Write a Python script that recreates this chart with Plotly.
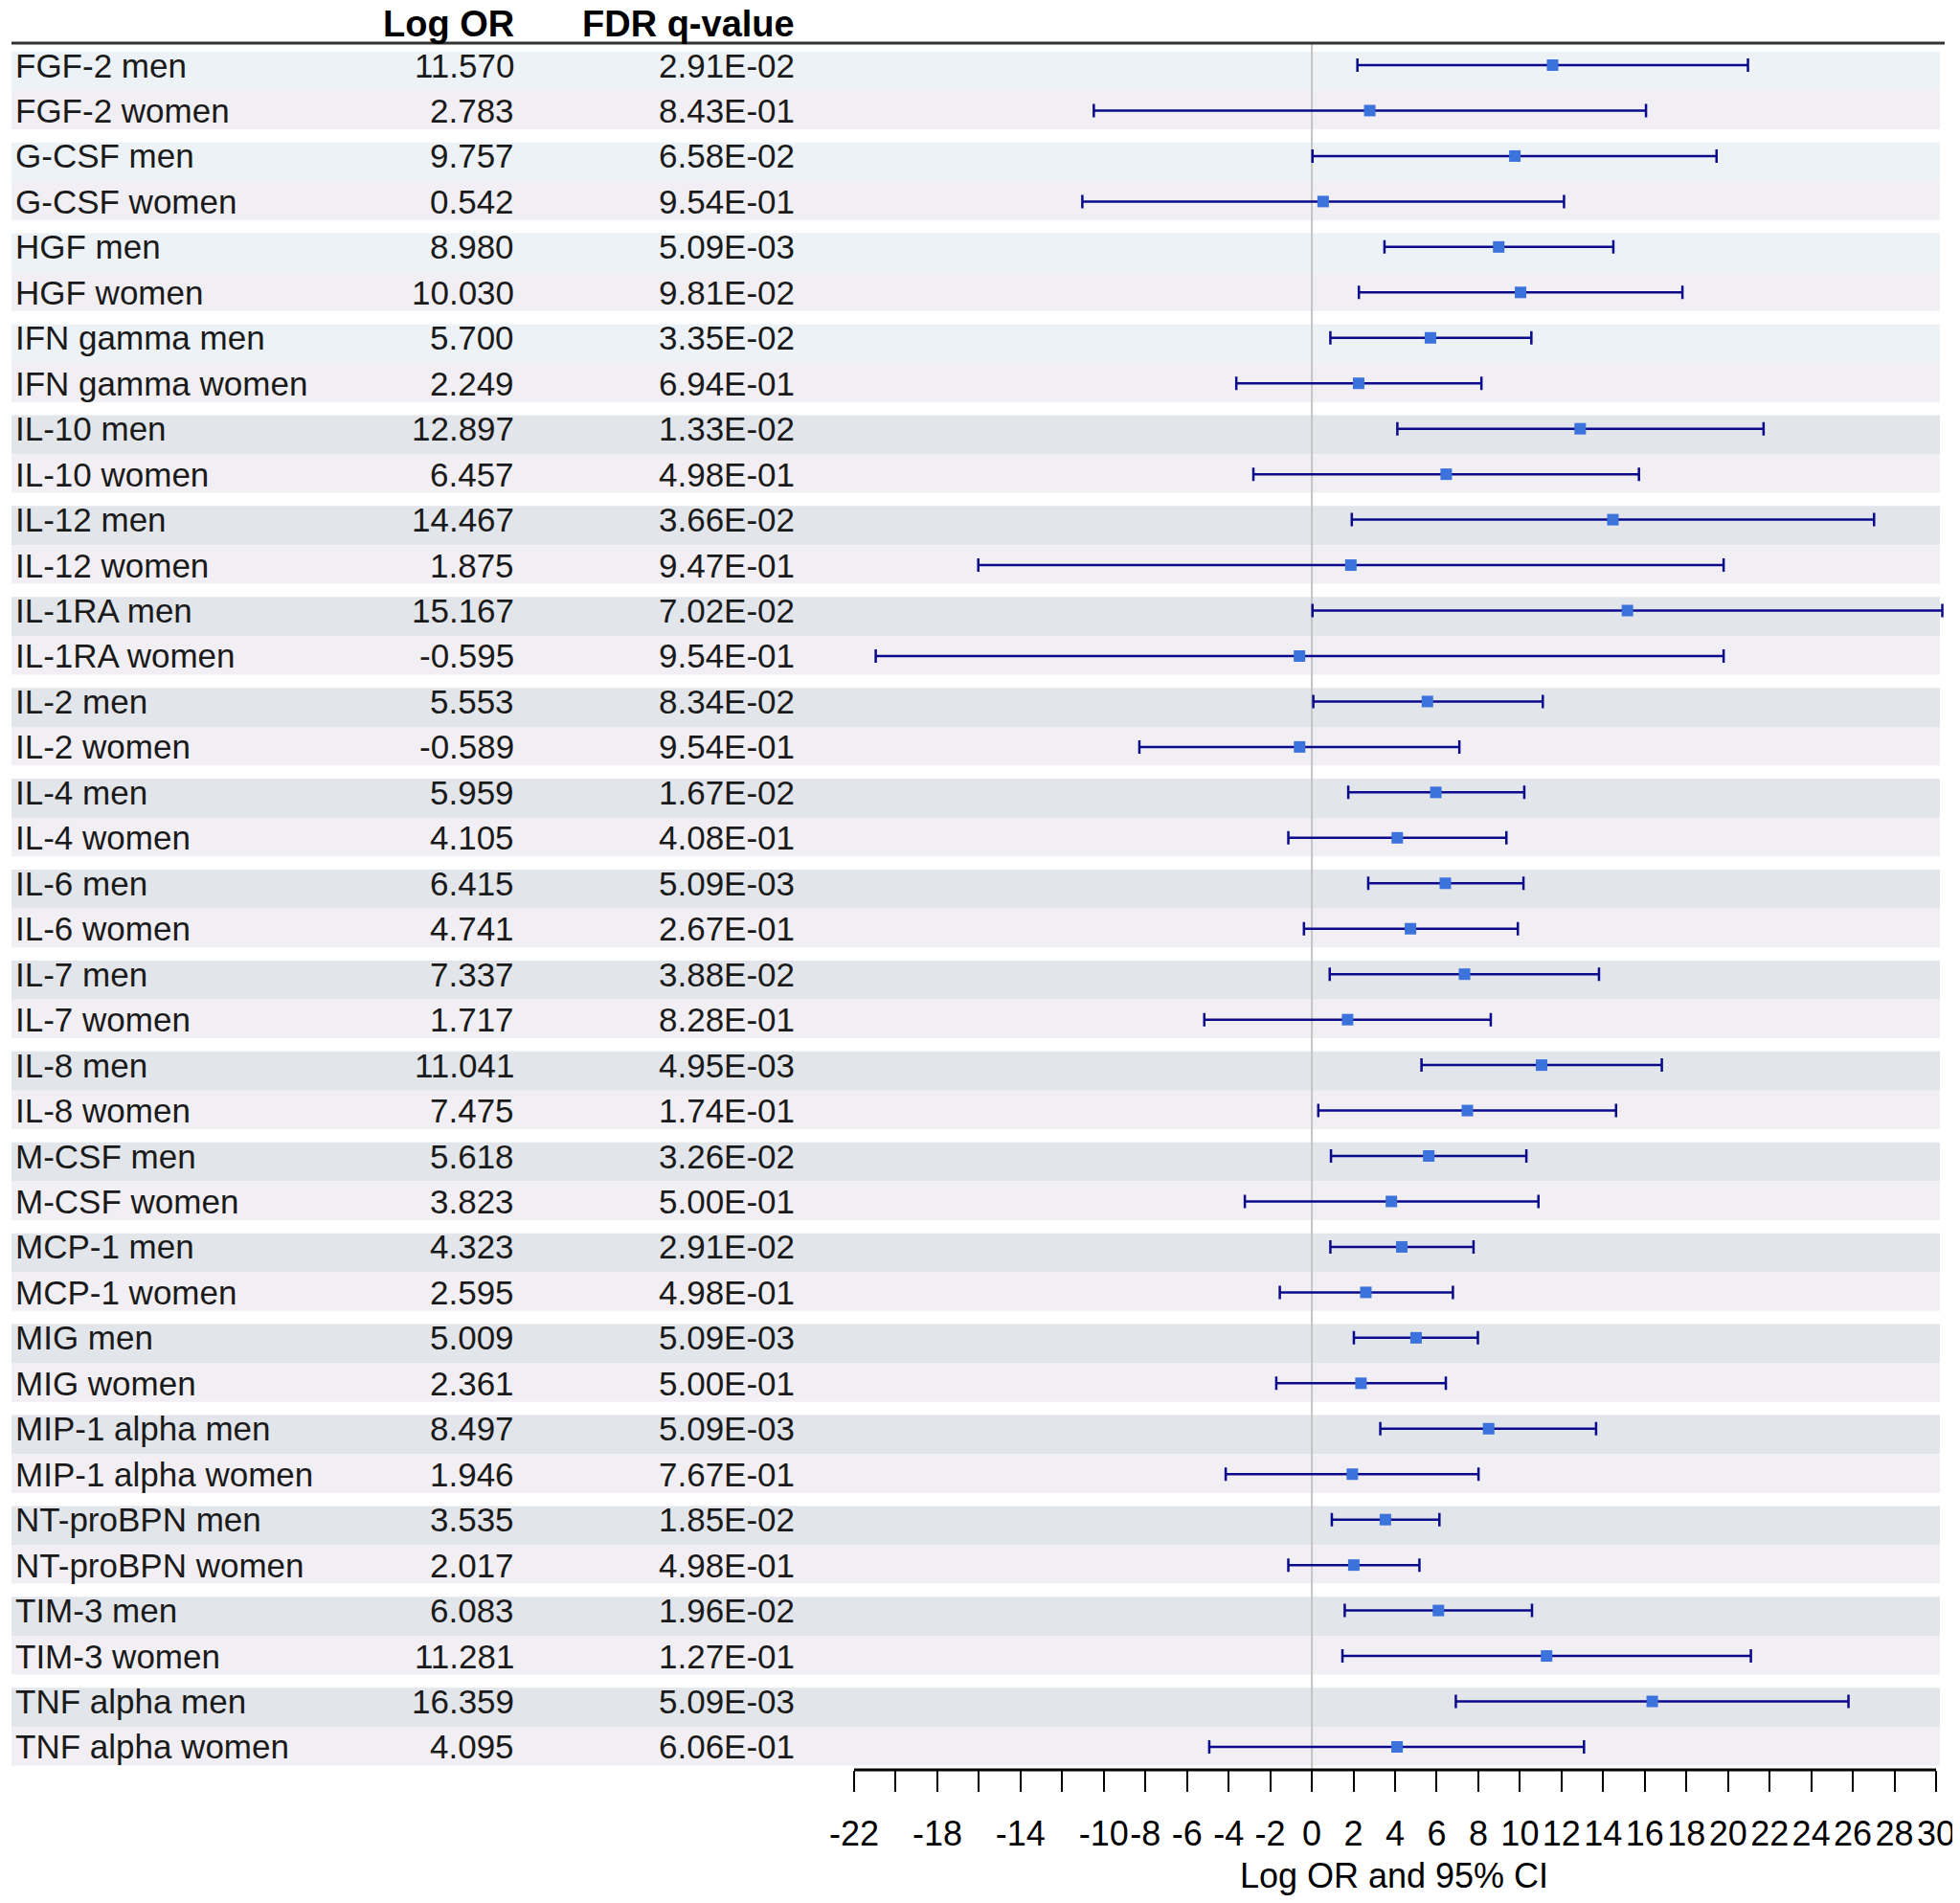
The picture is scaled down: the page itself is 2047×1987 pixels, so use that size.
import plotly.graph_objects as go

# data
labels = [
    "FGF-2 men", "FGF-2 women", "G-CSF men", "G-CSF women", "HGF men", "HGF women",
    "IFN gamma men", "IFN gamma women", "IL-10 men", "IL-10 women", "IL-12 men", "IL-12 women",
    "IL-1RA men", "IL-1RA women", "IL-2 men", "IL-2 women", "IL-4 men", "IL-4 women",
    "IL-6 men", "IL-6 women", "IL-7 men", "IL-7 women", "IL-8 men", "IL-8 women",
    "M-CSF men", "M-CSF women", "MCP-1 men", "MCP-1 women", "MIG men", "MIG women",
    "MIP-1 alpha men", "MIP-1 alpha women", "NT-proBPN men", "NT-proBPN women",
    "TIM-3 men", "TIM-3 women", "TNF alpha men", "TNF alpha women",
]
log_or = [
    11.570, 2.783, 9.757, 0.542, 8.980, 10.030, 5.700, 2.249, 12.897, 6.457,
    14.467, 1.875, 15.167, -0.595, 5.553, -0.589, 5.959, 4.105, 6.415, 4.741,
    7.337, 1.717, 11.041, 7.475, 5.618, 3.823, 4.323, 2.595, 5.009, 2.361,
    8.497, 1.946, 3.535, 2.017, 6.083, 11.281, 16.359, 4.095,
]
fdr_q = [
    2.91e-02, 8.43e-01, 6.58e-02, 9.54e-01, 5.09e-03, 9.81e-02, 3.35e-02, 6.94e-01,
    1.33e-02, 4.98e-01, 3.66e-02, 9.47e-01, 7.02e-02, 9.54e-01, 8.34e-02, 9.54e-01,
    1.67e-02, 4.08e-01, 5.09e-03, 2.67e-01, 3.88e-02, 8.28e-01, 4.95e-03, 1.74e-01,
    3.26e-02, 5.00e-01, 2.91e-02, 4.98e-01, 5.09e-03, 5.00e-01, 5.09e-03, 7.67e-01,
    1.85e-02, 4.98e-01, 1.96e-02, 1.27e-01, 5.09e-03, 6.06e-01,
]
ci_low = [
    2.19, -10.48, 0.03, -11.03, 3.49, 2.26, 0.89, -3.63, 4.11, -2.81,
    1.92, -16.03, 0.03, -20.96, 0.07, -8.29, 1.75, -1.13, 2.71, -0.38,
    0.86, -5.17, 5.27, 0.31, 0.92, -3.22, 0.89, -1.54, 2.02, -1.71,
    3.29, -4.14, 0.96, -1.13, 1.58, 1.47, 6.92, -4.93,
]
ci_high = [
    20.96, 16.06, 19.45, 12.12, 14.49, 17.81, 10.55, 8.15, 21.71, 15.72,
    27.02, 19.79, 30.30, 19.79, 11.10, 7.09, 10.21, 9.35, 10.17, 9.90,
    13.80, 8.60, 16.82, 14.62, 10.31, 10.89, 7.77, 6.78, 7.98, 6.44,
    13.66, 8.01, 6.13, 5.17, 10.58, 21.10, 25.79, 13.08,
]
tick_vals = list(range(-22, 31, 2))
tick_text = ["" if v in (-20, -16, -12) else str(v) for v in tick_vals]

FONT = "Liberation Sans, Arial, sans-serif"
# page body keeps its default 8px margin, so the figure is shifted by 8px
W, H = 2039, 1971
PAPER_W = 2023  # width of the paper area (margin r = 16)
PLOT_H = 1803

rows = list(range(len(labels)))

fig = go.Figure()
fig.add_trace(go.Scatter(
    x=log_or,
    y=rows,
    mode='markers',
    marker=dict(symbol='square', size=12, color='#3b72dc', line=dict(width=0)),
    error_x=dict(
        type='data', symmetric=False,
        array=[h - v for h, v in zip(ci_high, log_or)],
        arrayminus=[v - l for v, l in zip(log_or, ci_low)],
        color='#0a0a8a', thickness=2.5, width=7,
    ),
    showlegend=False,
    hoverinfo='skip',
))

shapes = []
# row bands
for i in rows:
    if i % 2 == 0:
        color = '#edf2f6' if i < 8 else '#e2e5ea'
        y0, y1 = i - 0.30, i + 0.56
    else:
        color = '#f2eff4'
        y0, y1 = i - 0.44, i + 0.41
    shapes.append(dict(type='rect', xref='paper', yref='y',
                       x0=4 / PAPER_W, x1=2018 / PAPER_W, y0=y0, y1=y1,
                       fillcolor=color, line=dict(width=0), layer='below'))
# zero reference line
shapes.append(dict(type='line', xref='x', yref='paper', x0=0, x1=0, y0=0, y1=1,
                   line=dict(color='#c4c4c4', width=2), layer='below'))
# header rule
shapes.append(dict(type='line', xref='paper', yref='paper', x0=4 / PAPER_W, x1=1, y0=1, y1=1,
                   line=dict(color='#333333', width=3)))
# bottom axis line, only over the tick span
shapes.append(dict(type='line', xref='x', yref='paper', x0=-22, x1=30, y0=0, y1=0,
                   line=dict(color='black', width=3)))

annotations = []
cell_font = dict(family=FONT, size=35, color='#1a1a1a')
for i, (lab, v, q) in enumerate(zip(labels, log_or, fdr_q)):
    annotations.append(dict(x=6 / PAPER_W, y=i, xref='paper', yref='y', text=lab,
                            showarrow=False, xanchor='left', yanchor='middle', font=cell_font))
    annotations.append(dict(x=531 / PAPER_W, y=i, xref='paper', yref='y', text=f"{v:.3f}",
                            showarrow=False, xanchor='right', yanchor='middle', font=cell_font))
    annotations.append(dict(x=824 / PAPER_W, y=i, xref='paper', yref='y', text=f"{q:.2E}",
                            showarrow=False, xanchor='right', yanchor='middle', font=cell_font))
for txt, xr in [("Log OR", 531), ("FDR q-value", 824)]:
    annotations.append(dict(x=xr / PAPER_W, y=(PLOT_H + 20) / PLOT_H, xref='paper', yref='paper',
                            text=f"<b>{txt}</b>", showarrow=False,
                            xanchor='right', yanchor='middle',
                            font=dict(family=FONT, size=38, color='black')))

fig.update_layout(
    width=W,
    height=H,
    margin=dict(l=0, r=W - PAPER_W, t=37, b=H - 37 - PLOT_H, pad=0, autoexpand=False),
    plot_bgcolor='white',
    paper_bgcolor='white',
    shapes=shapes,
    annotations=annotations,
    xaxis=dict(
        domain=[873 / PAPER_W, 1],
        range=[-22.506, 30.414],
        tickvals=tick_vals,
        ticktext=tick_text,
        tickangle=0,
        ticklabeloverflow='allow',
        ticklabelstandoff=13,
        ticks='outside',
        ticklen=22,
        tickwidth=2,
        tickcolor='black',
        showline=False,
        showgrid=False,
        zeroline=False,
        automargin=False,
        tickfont=dict(family=FONT, size=36, color='black'),
        title=dict(text='Log OR and 95% CI', font=dict(family=FONT, size=36, color='black'),
                   standoff=11),
    ),
    yaxis=dict(
        range=[37.506, -0.485],
        showticklabels=False,
        showgrid=False,
        zeroline=False,
        showline=False,
        automargin=False,
        ticks='',
    ),
)

fig.write_html("out.html")
